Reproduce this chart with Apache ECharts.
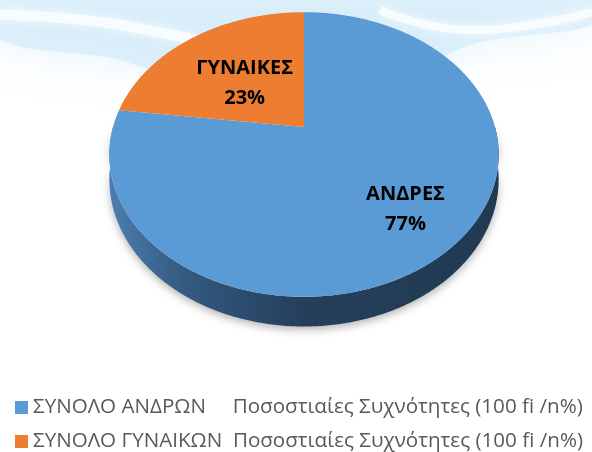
<!DOCTYPE html>
<html>
<head>
<meta charset="utf-8">
<script src="https://cdn.jsdelivr.net/npm/echarts@6/dist/echarts.min.js"></script>
<style>
  html, body { margin: 0; padding: 0; background: #fff; }
  #container { width: 592px; height: 452px; }
</style>
</head>
<body>
<div id="container"></div>
<script>
var sliceNames = ['ΑΝΔΡΕΣ', 'ΓΥΝΑΙΚΕΣ'];
var sliceValues = [77, 23];
var legendNames = [
	'ΣΥΝΟΛΟ ΑΝΔΡΩΝ     Ποσοστιαίες Συχνότητες (100 fi /n%)',
	'ΣΥΝΟΛΟ ΓΥΝΑΙΚΩΝ  Ποσοστιαίες Συχνότητες (100 fi /n%)'
];
var colors = ['#5b9bd5', '#ed7d31'];

// 3d pie geometry (pixels)
var cx = 304, cy = 127;   // apex of the slices
var A = 191, B = 137;     // half axes of the disc
var P = 0.193;            // perspective strength
var H = 24;               // thickness
var labelR = [0.72, 0.45];

var total = sliceValues.reduce(function (s, v) { return s + v; }, 0);

function proj(t, r, drop) {
	var x = r * Math.cos(t), z = r * Math.sin(t);
	var w = 1 + P * z;
	return [cx + A * x / w, cy - B * z / w + drop / w];
}

function arc(t0, t1, drop) {
	var pts = [], n = Math.max(2, Math.ceil(Math.abs(t1 - t0) / 0.01));
	for (var k = 0; k <= n; k++) {
		pts.push(proj(t0 + (t1 - t0) * k / n, 1, drop));
	}
	return pts;
}

function renderSlice(params, api) {
	var start = api.value(0), val = api.value(1), idx = api.value(2);
	// clockwise from 12 o'clock
	var t0 = Math.PI / 2 - start / total * 2 * Math.PI;
	var t1 = t0 - val / total * 2 * Math.PI;
	var children = [];

	// front side: the part of the arc with sin < 0
	var lo = Math.max(t1, -Math.PI), hi = Math.min(t0, 0);
	if (hi > lo) {
		var top = arc(hi, lo, 0), bot = arc(lo, hi, H);
		children.push({
			type: 'polygon',
			shape: { points: top.concat(bot) },
			style: {
				fill: new echarts.graphic.LinearGradient(0, 0, 1, 0, [
					{ offset: 0, color: '#4d7db0' },
					{ offset: 0.2, color: '#32597f' },
					{ offset: 0.5, color: '#253f5b' },
					{ offset: 1, color: '#213a53' }
				]),
				shadowBlur: 8,
				shadowOffsetY: 3,
				shadowColor: 'rgba(0,0,0,0.3)'
			}
		});
	}

	var face = [[cx, cy]].concat(arc(t0, t1, 0));
	children.push({
		type: 'polygon',
		shape: { points: face },
		style: { fill: colors[idx] }
	});

	var tm = (t0 + t1) / 2;
	var lp = proj(tm, labelR[idx], 0);
	children.push({
		type: 'text',
		x: lp[0] - (idx === 1 ? 6 : 0), y: lp[1],
		style: {
			text: sliceNames[idx] + '\n' + Math.round(val / total * 100) + '%',
			fill: '#000',
			font: 'bold 20px "Open Sans"',
			align: 'center',
			verticalAlign: 'middle',
			lineHeight: 30
		}
	});
	return { type: 'group', children: children };
}

var myChart = echarts.init(document.getElementById('container'));

var series = [];
var acc = 0;
for (var i = 0; i < sliceValues.length; i++) {
	series.push({
		name: legendNames[i],
		type: 'custom',
		coordinateSystem: 'none',
		itemStyle: { color: colors[i] },
		data: [[acc, sliceValues[i], i]],
		renderItem: renderSlice,
		silent: true
	});
	acc += sliceValues[i];
}

var legendBase = {
	orient: 'vertical',
	left: 10,
	icon: 'rect',
	itemWidth: 13,
	itemHeight: 13,
	itemGap: 6,
	selectedMode: false,
	textStyle: { color: '#595959', fontSize: 20.6, fontFamily: 'Open Sans' }
};

myChart.setOption({
	backgroundColor: '#fff',
	color: colors,
	animation: false,
	graphic: [
		// faint watermark behind the chart
		{ type: 'polygon', z: -10, silent: true,
		  shape: { points: [[0, 0], [592, 0], [592, 25], [470, 45], [340, 110], [230, 100], [120, 60], [0, 40]], smooth: 0.3 },
		  style: { fill: 'rgba(206,233,249,0.6)', shadowBlur: 40, shadowColor: 'rgba(206,233,249,0.9)' } },
		{ type: 'polyline', z: -9, silent: true,
		  shape: { points: [[0, 15], [120, 25], [260, 60], [330, 90]], smooth: 0.5 },
		  style: { stroke: 'rgba(255,255,255,0.7)', lineWidth: 10, shadowBlur: 10, shadowColor: '#fff' } },
		{ type: 'polyline', z: -9, silent: true,
		  shape: { points: [[380, 10], [470, 30], [592, 12]], smooth: 0.5 },
		  style: { stroke: 'rgba(255,255,255,0.7)', lineWidth: 8, shadowBlur: 10, shadowColor: '#fff' } }
	],
	legend: [
		Object.assign({}, legendBase, { top: 392, data: [legendNames[0]] }),
		Object.assign({}, legendBase, { top: 426, data: [legendNames[1]] })
	],
	series: series
});
</script>
</body>
</html>
